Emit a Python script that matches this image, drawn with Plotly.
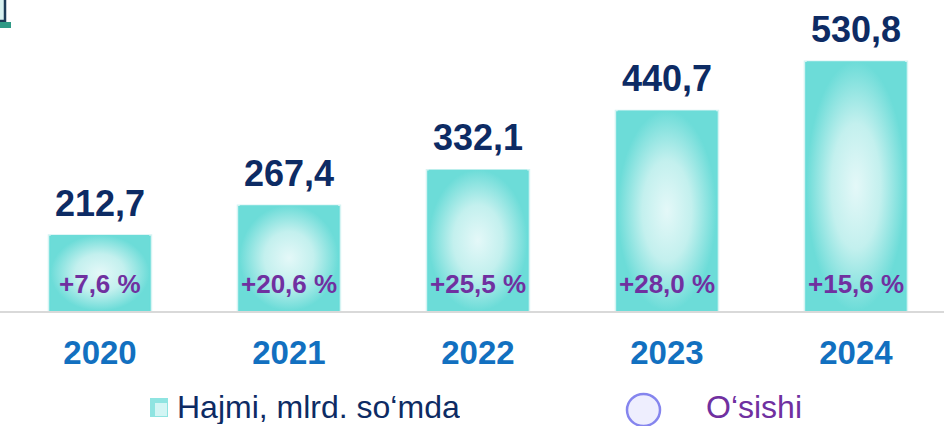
import plotly.graph_objects as go

# ---- data ----
years = ["2020", "2021", "2022", "2023", "2024"]
volume = [212.7, 267.4, 332.1, 440.7, 530.8]          # Hajmi, mlrd. so'mda
growth = [7.6, 20.6, 25.5, 28.0, 15.6]                 # O'sishi, %
volume_labels = ["212,7", "267,4", "332,1", "440,7", "530,8"]
growth_labels = ["+7,6 %", "+20,6 %", "+25,5 %", "+28,0 %", "+15,6 %"]
series_names = ["Hajmi, mlrd. so‘mda", "O‘sishi"]

# ---- layout constants ----
W, H = 944, 426
PLOT_BOTTOM = 311          # pixel y of the axis line
Y_MIN, Y_MAX = 73.5, 643.2
X_MIN, X_MAX = -0.529, 4.466
BAR_W = 0.545
FONT = "Liberation Sans, Arial, sans-serif"
NAVY = "#0d2b64"
BLUE = "#1270c0"
PURPLE = "#7030a0"
TEAL = "#68dcd8"

xs = list(range(len(years)))

def px_x(p):
    return p / W

def px_y(p):
    return (PLOT_BOTTOM - p) / PLOT_BOTTOM

fig = go.Figure()

# bars (teal base)
fig.add_trace(go.Bar(
    x=xs, y=volume, width=BAR_W, name=series_names[0],
    marker=dict(color=TEAL, line=dict(color="#d6f4f3", width=1.5)),
    showlegend=False, hoverinfo="x+y",
))

# gradient overlay inside each bar (derived from the same data)
inset = 0.012
for i, v in zip(xs, volume):
    x0, x1 = i - BAR_W / 2 + inset, i + BAR_W / 2 - inset
    fig.add_trace(go.Scatter(
        x=[x0, x1, x1, x0, x0], y=[Y_MIN, Y_MIN, v, v, Y_MIN],
        mode="none", fill="toself",
        fillgradient=dict(type="radial",
                          colorscale=[[0, "#e4f8f8"], [0.5, "#c3f0ee"], [1, "#6cdcd8"]]),
        showlegend=False, hoverinfo="skip",
    ))

# growth series (labels only, the line itself is hidden)
fig.add_trace(go.Scatter(
    x=xs, y=[Y_MIN] * len(xs), mode="none", name=series_names[1],
    showlegend=False, hoverinfo="skip",
))

annotations = []
for i, v, lab in zip(xs, volume, volume_labels):
    annotations.append(dict(
        x=i, y=v, xref="x", yref="y", text=lab, showarrow=False,
        yanchor="middle", yshift=32,
        font=dict(family=FONT, size=36, color=NAVY, weight="bold"),
    ))
for i, lab in zip(xs, growth_labels):
    annotations.append(dict(
        x=i, y=Y_MIN, xref="x", yref="y", text=lab, showarrow=False,
        yanchor="middle", yshift=27,
        font=dict(family=FONT, size=26, color=PURPLE, weight="bold"),
    ))

# manual legend
annotations.append(dict(
    x=px_x(175), y=px_y(407), xref="paper", yref="paper", text=series_names[0],
    showarrow=False, xanchor="left", yanchor="middle", height=34,
    font=dict(family=FONT, size=32, color=NAVY),
))
annotations.append(dict(
    x=px_x(704), y=px_y(407), xref="paper", yref="paper", text=series_names[1],
    showarrow=False, xanchor="left", yanchor="middle", height=34,
    font=dict(family=FONT, size=32, color=PURPLE),
))

shapes = [
    # legend square icon
    dict(type="rect", xref="paper", yref="paper",
         x0=px_x(150), x1=px_x(168), y0=px_y(417), y1=px_y(398),
         fillcolor="#8fe4e1", line=dict(width=0)),
    dict(type="rect", xref="paper", yref="paper",
         x0=px_x(155), x1=px_x(167), y0=px_y(416), y1=px_y(403),
         fillcolor="#d3f5f4", line=dict(width=0)),
    # legend circle icon
    dict(type="circle", xref="paper", yref="paper",
         x0=px_x(627), x1=px_x(660), y0=px_y(426), y1=px_y(394),
         fillcolor="#eeeefe", line=dict(color="#8585ee", width=2.5)),
    # small icon fragment at top-left
    dict(type="rect", xref="paper", yref="paper",
         x0=px_x(-4), x1=px_x(5), y0=px_y(21), y1=px_y(-4),
         fillcolor="#d8f1f0", line=dict(color="#1d3b57", width=2.5)),
    dict(type="rect", xref="paper", yref="paper",
         x0=px_x(0), x1=px_x(11), y0=px_y(28), y1=px_y(22),
         fillcolor="#2f9a86", line=dict(width=0)),
]

fig.update_layout(
    width=W, height=H,
    margin=dict(l=0, r=0, t=0, b=H - PLOT_BOTTOM),
    plot_bgcolor="white", paper_bgcolor="white",
    barmode="overlay",
    showlegend=False,
    annotations=annotations,
    shapes=shapes,
    xaxis=dict(
        range=[X_MIN, X_MAX], tickvals=xs, ticktext=years,
        showgrid=False, zeroline=False, ticks="",
        showline=True, linecolor="#d9d9d9", linewidth=2,
        tickfont=dict(family=FONT, size=33, color=BLUE, weight="bold"),
        ticklabelstandoff=11, fixedrange=True,
    ),
    yaxis=dict(range=[Y_MIN, Y_MAX], visible=False, fixedrange=True),
)

fig.write_html(
    "out.html",
    config={"displayModeBar": False},
    post_script="document.body.style.margin='0';document.body.style.overflow='hidden';",
)
